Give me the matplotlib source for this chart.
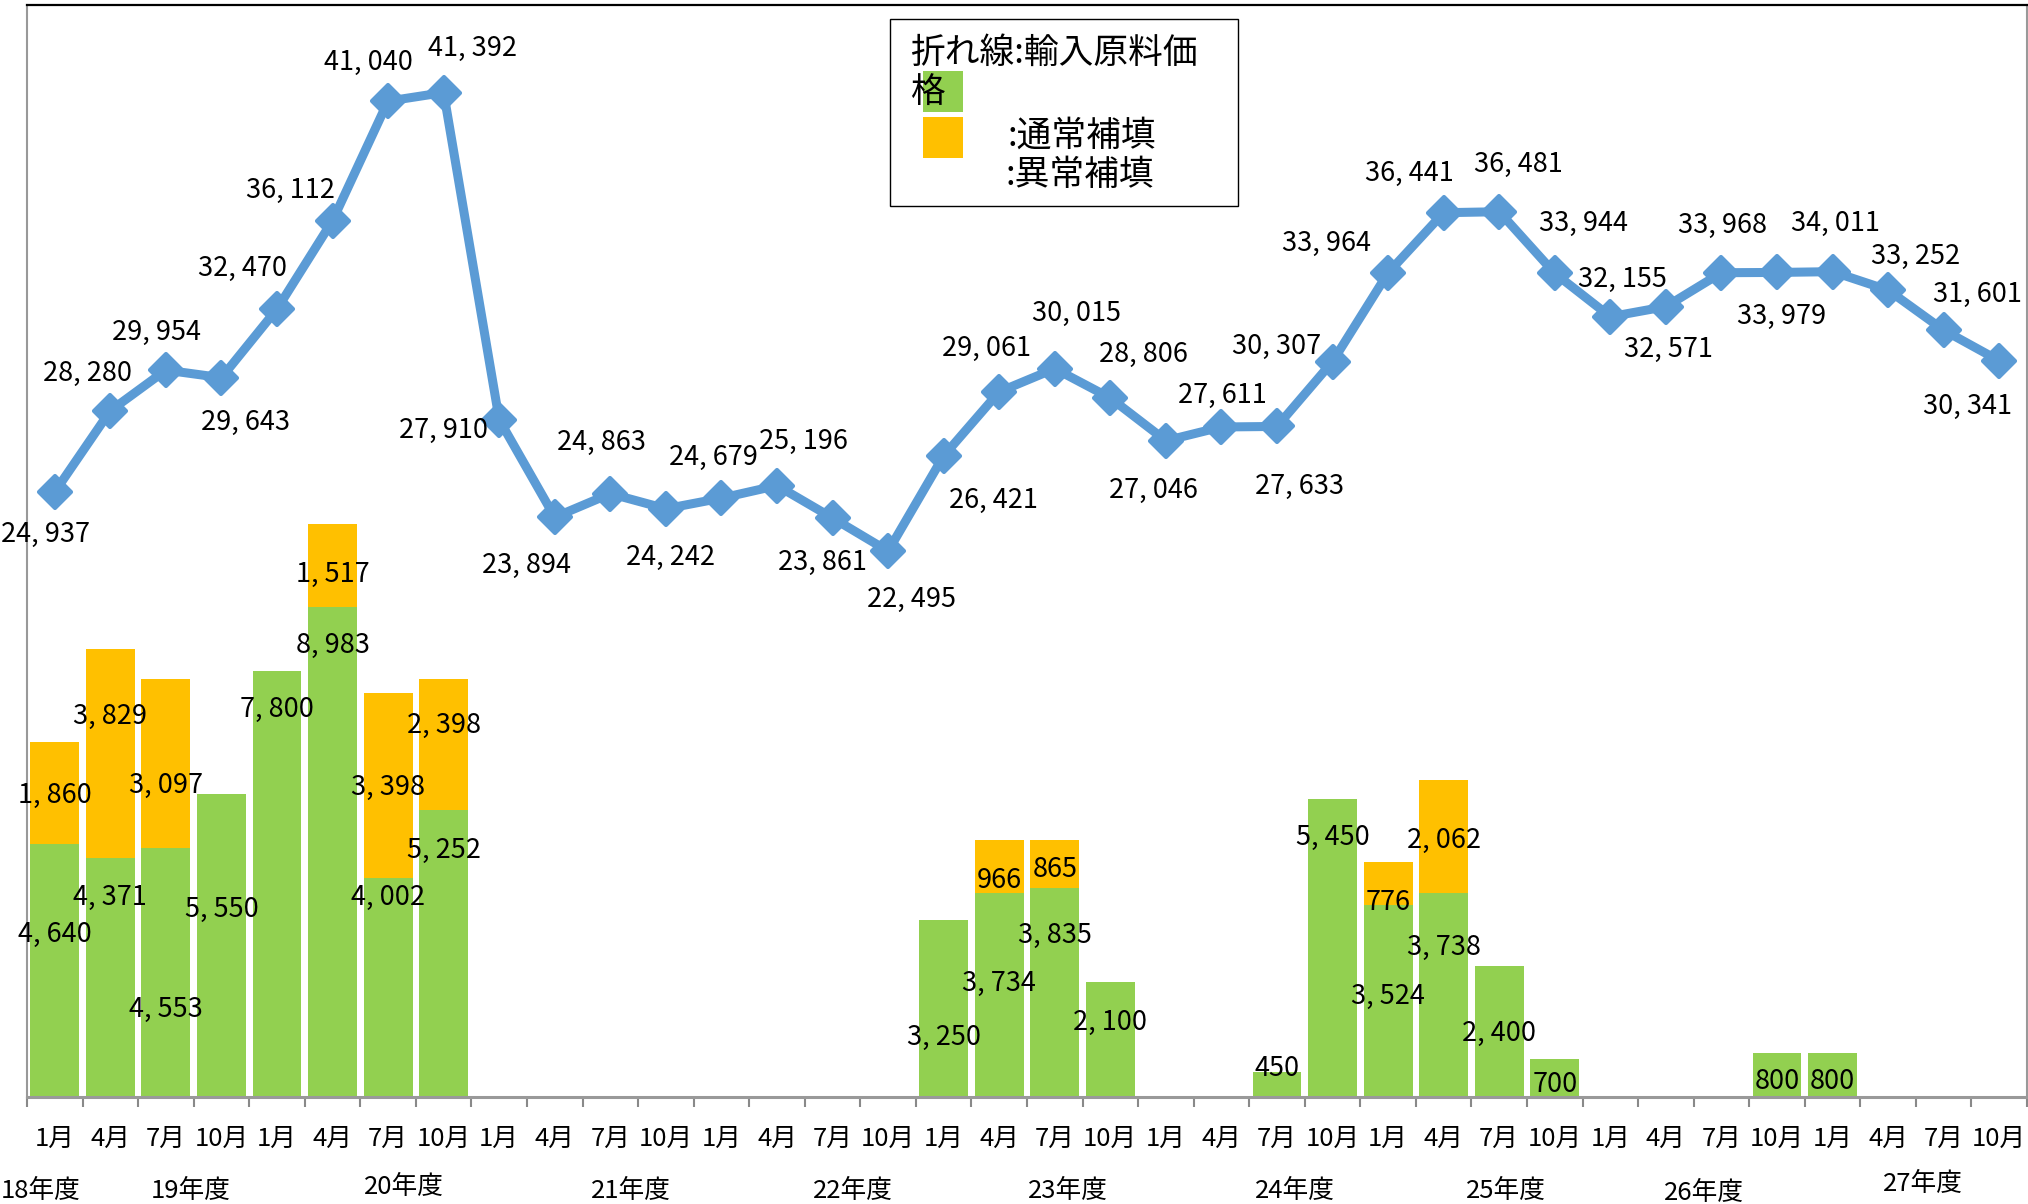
import numpy as np
import matplotlib.pyplot as plt
from matplotlib.patches import Rectangle
from matplotlib.markers import MarkerStyle

plt.rcParams['font.family'] = ['Noto Sans CJK JP', 'DejaVu Sans']

# data
quarter_labels = ['1月', '4月', '7月', '10月'] * 9
years = ['18年度', '19年度', '20年度', '21年度', '22年度',
         '23年度', '24年度', '25年度', '26年度', '27年度']

price = [24937, 28280, 29954, 29643, 32470, 36112, 41040, 41392, 27910,
         23894, 24863, 24242, 24679, 25196, 23861, 22495, 26421,
         29061, 30015, 28806, 27046, 27611, 27633, 30307, 33964,
         36441, 36481, 33944, 32155, 32571, 33968, 33979, 34011,
         33252, 31601, 30341]

normal = [4640, 4371, 4553, 5550, 7800, 8983, 4002, 5252,
          0, 0, 0, 0, 0, 0, 0, 0,
          3250, 3734, 3835, 2100, 0, 0, 450, 5450,
          3524, 3738, 2400, 700, 0, 0, 0, 800,
          800, 0, 0, 0]

extra = [1860, 3829, 3097, 0, 0, 1517, 3398, 2398,
         0, 0, 0, 0, 0, 0, 0, 0,
         0, 966, 865, 0, 0, 0, 0, 0,
         776, 2062, 0, 0, 0, 0, 0, 0,
         0, 0, 0, 0]

# label layout (offsets in points for line labels, y in bar units for bar labels)
line_off = [(-6.5, -31), (-16.5, 27), (-6.5, 27), (17, -32), (-25, 29), (-30, 22),
            (-14, 28), (21, 32), (-40, -8), (-20, -35), (-6.5, 37), (3.5, -35),
            (-6, 29), (19, 32), (-7, -32), (16.5, -35), (36, -32), (-9, 31),
            (16, 40), (24, 31), (-9, -36), (1, 23), (16, -43), (-40, 11),
            (-44, 21), (-25, 28), (14, 34), (21, 36), (9, 27), (2, -31),
            (1, 34), (3, -32), (2, 35), (20, 24), (24, 26), (-23, -33)]

normal_label_y = [2980, 3660, 1610, 3430, 7090, 8270, 3660, 4515,
                  0, 0, 0, 0, 0, 0, 0, 0,
                  1090, 2080, 2955, 1370, 0, 0, 520, 4750,
                  1845, 2740, 1160, 236, 0, 0, 0, 284,
                  284, 0, 0, 0]
extra_label_y = [5530, 6975, 5700, 0, 0, 9575, 5675, 6810,
                 0, 0, 0, 0, 0, 0, 0, 0,
                 0, 3970, 4160, 0, 0, 0, 0, 0,
                 3570, 4705, 0, 0, 0, 0, 0, 0,
                 0, 0, 0, 0]

year_x = [-0.25, 2.45, 6.28, 10.37, 14.37, 18.24, 22.33, 26.12, 29.68, 33.62]
year_dy = [0, 0, 3, 0, 0, 0, 0, 0, -1.5, 5]


def fmt(v):
    return f'{v:,}'.replace(',', ', ')


W, H = 2028, 1204
fig = plt.figure(figsize=(W / 100, H / 100), dpi=100)
ax = fig.add_axes([27 / W, 1 - 1097 / H, 2000 / W, 1092 / H])

x = np.arange(len(price))
green = '#92D050'
orange = '#FFC000'
blue = '#5B9BD5'

ax.bar(x, normal, width=0.88, color=green, zorder=2)
ax.bar(x, extra, width=0.88, bottom=normal, color=orange, zorder=2)
ax.set_xlim(-0.5, len(price) - 0.5)
ax.set_ylim(0, 20000)
ax.set_yticks([])

ax.set_xticks(x)
ax.set_xticklabels(quarter_labels, fontsize=18.5)
ax.tick_params(axis='x', which='major', length=0, pad=21)
ax.set_xticks(np.arange(-0.5, len(price), 1), minor=True)
ax.tick_params(axis='x', which='minor', length=7, width=1.5, color='#898989')

ax.spines['top'].set_color('black')
ax.spines['top'].set_linewidth(1.6)
for s in ['left', 'right']:
    ax.spines[s].set_color('#999999')
    ax.spines[s].set_linewidth(1.5)
ax.spines['bottom'].set_color('#999999')
ax.spines['bottom'].set_linewidth(2.2)

for i in x:
    if normal[i] > 0:
        ax.text(i, normal_label_y[i], fmt(normal[i]), ha='center', va='center',
                fontsize=19.5, zorder=5)
    if extra[i] > 0:
        ax.text(i, extra_label_y[i], fmt(extra[i]), ha='center', va='center',
                fontsize=19.5, zorder=5)

for j, yr in enumerate(years):
    ax.annotate(yr, (year_x[j], 0), xycoords=('data', 'axes fraction'),
                xytext=(0, -67.5 + year_dy[j]), textcoords='offset points',
                ha='center', va='center', fontsize=18.5, annotation_clip=False)

ax2 = ax.twinx()
ax2.set_ylim(0, 45000)
ax2.set_yticks([])
for s in ax2.spines.values():
    s.set_visible(False)
ax2.plot(x, price, color=blue, lw=6.5, solid_joinstyle='round',
         marker=MarkerStyle('D', joinstyle='round'), ms=16, mew=3,
         mec=blue, mfc=blue, zorder=3)
for i, v in enumerate(price):
    ax2.annotate(fmt(v), (i, v), xytext=line_off[i], textcoords='offset points',
                 ha='center', va='center', fontsize=19.5)

# hand-made legend box
def fx(px):
    return px / W


def fy(py):
    return 1 - py / H


fig.add_artist(Rectangle((fx(890), fy(206)), fx(348), 187 / H, transform=fig.transFigure,
                         facecolor='white', edgecolor='black', lw=1, zorder=10))
fig.add_artist(Rectangle((fx(923), fy(112)), fx(40), 41 / H, transform=fig.transFigure,
                         facecolor=green, edgecolor='none', zorder=11))
fig.add_artist(Rectangle((fx(923), fy(158)), fx(40), 41 / H, transform=fig.transFigure,
                         facecolor=orange, edgecolor='none', zorder=11))
fig.text(fx(910), fy(53), '折れ線:輸入原料価', fontsize=25, va='center', ha='left', zorder=12)
fig.text(fx(910), fy(93), '格', fontsize=25, va='center', ha='left', zorder=12)
fig.text(fx(1008), fy(136), ':通常補填', fontsize=25, va='center', ha='left', zorder=12)
fig.text(fx(1006), fy(176), ':異常補填', fontsize=25, va='center', ha='left', zorder=12)

fig.savefig('out.png', dpi=100)
